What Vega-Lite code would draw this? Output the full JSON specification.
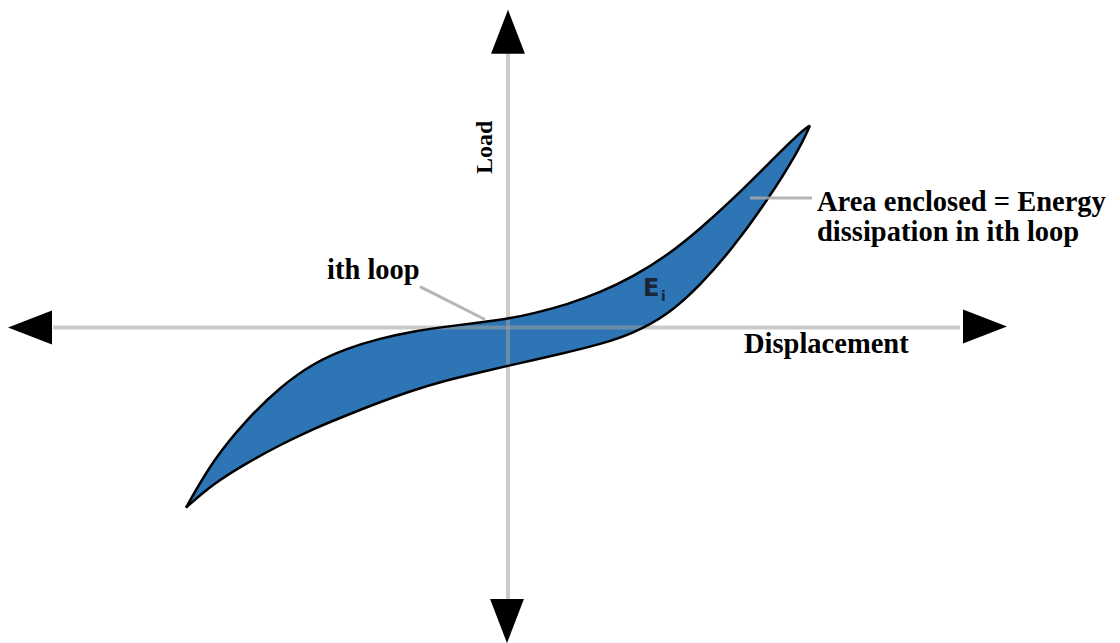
{
  "$schema": "https://vega.github.io/schema/vega-lite/v6.json",
  "width": 1120,
  "height": 643,
  "padding": 0,
  "autosize": {"type": "fit", "contains": "padding"},
  "background": "white",
  "config": {"view": {"stroke": null}},
  "datasets": {
    "loop": [
      {"d": -322, "upper": -181, "lower": -181},
      {"d": -295, "upper": -133, "lower": -157},
      {"d": -261, "upper": -92, "lower": -136},
      {"d": -228, "upper": -60, "lower": -118},
      {"d": -195, "upper": -36, "lower": -102},
      {"d": -161, "upper": -21, "lower": -88},
      {"d": -128, "upper": -11, "lower": -75},
      {"d": -95, "upper": -4, "lower": -63},
      {"d": -61, "upper": 1, "lower": -53},
      {"d": -28, "upper": 5, "lower": -45},
      {"d": 2, "upper": 9, "lower": -38},
      {"d": 25, "upper": 14, "lower": -33},
      {"d": 59, "upper": 23, "lower": -25},
      {"d": 92, "upper": 35, "lower": -17},
      {"d": 125, "upper": 51, "lower": -6},
      {"d": 159, "upper": 72, "lower": 12},
      {"d": 192, "upper": 99, "lower": 42},
      {"d": 225, "upper": 129, "lower": 80},
      {"d": 259, "upper": 163, "lower": 127},
      {"d": 292, "upper": 196, "lower": 180},
      {"d": 302, "upper": 203, "lower": 203}
    ],
    "axes": [
      {"xa": -455, "ya": 0, "xb": 452, "yb": 0},
      {"xa": 0, "ya": 276, "xb": 0, "yb": -274}
    ],
    "pointers": [
      {"xa": -88, "ya": 41, "xb": -23, "yb": 8},
      {"xa": 242, "ya": 130, "xb": 304, "yb": 130}
    ],
    "arrows": [
      {"x": -478, "y": 0, "heading": 270},
      {"x": 477, "y": 1, "heading": 90},
      {"x": 0, "y": 297, "heading": 0},
      {"x": -1, "y": -295, "heading": 180}
    ],
    "labels": [
      {"x": -181, "y": 49, "text": "ith loop"},
      {"x": 309, "y": 117, "text": "Area enclosed = Energy"},
      {"x": 309, "y": 87, "text": "dissipation in ith loop"},
      {"x": 236, "y": -26, "text": "Displacement"}
    ],
    "vlabels": [
      {"x": -23, "y": 181, "text": "Load"}
    ],
    "eLabel": [
      {"x": 135, "y": 32, "text": "E"}
    ],
    "eSub": [
      {"x": 153, "y": 27, "text": "i"}
    ]
  },
  "layer": [
    {
      "data": {"name": "loop"},
      "mark": {"type": "area", "interpolate": "basis", "color": "#2e75b6", "opacity": 1},
      "encoding": {
        "x": {"field": "d", "type": "quantitative", "scale": {"domain": [-508, 612], "nice": false, "zero": false}, "axis": null},
        "y": {"field": "upper", "type": "quantitative", "scale": {"domain": [-314, 329], "nice": false, "zero": false}, "axis": null},
        "y2": {"field": "lower"}
      }
    },
    {
      "data": {"name": "axes"},
      "mark": {"type": "rule", "color": "#a0a0a0", "opacity": 0.55, "strokeWidth": 4},
      "encoding": {
        "x": {"field": "xa", "type": "quantitative", "scale": {"domain": [-508, 612], "nice": false, "zero": false}, "axis": null},
        "y": {"field": "ya", "type": "quantitative", "scale": {"domain": [-314, 329], "nice": false, "zero": false}, "axis": null},
        "x2": {"field": "xb"},
        "y2": {"field": "yb"}
      }
    },
    {
      "data": {"name": "loop"},
      "mark": {"type": "line", "interpolate": "basis", "color": "#000000", "strokeWidth": 2.5},
      "encoding": {
        "x": {"field": "d", "type": "quantitative", "scale": {"domain": [-508, 612], "nice": false, "zero": false}, "axis": null},
        "y": {"field": "upper", "type": "quantitative", "scale": {"domain": [-314, 329], "nice": false, "zero": false}, "axis": null}
      }
    },
    {
      "data": {"name": "loop"},
      "mark": {"type": "line", "interpolate": "basis", "color": "#000000", "strokeWidth": 2.5},
      "encoding": {
        "x": {"field": "d", "type": "quantitative", "scale": {"domain": [-508, 612], "nice": false, "zero": false}, "axis": null},
        "y": {"field": "lower", "type": "quantitative", "scale": {"domain": [-314, 329], "nice": false, "zero": false}, "axis": null}
      }
    },
    {
      "data": {"name": "pointers"},
      "mark": {"type": "rule", "color": "#a8a8a8", "opacity": 0.85, "strokeWidth": 3},
      "encoding": {
        "x": {"field": "xa", "type": "quantitative", "scale": {"domain": [-508, 612], "nice": false, "zero": false}, "axis": null},
        "y": {"field": "ya", "type": "quantitative", "scale": {"domain": [-314, 329], "nice": false, "zero": false}, "axis": null},
        "x2": {"field": "xb"},
        "y2": {"field": "yb"}
      }
    },
    {
      "data": {"name": "arrows"},
      "mark": {"type": "point", "shape": "M-0.77,1L0,-1L0.77,1Z", "filled": true, "color": "#000000", "opacity": 1, "size": 1936, "strokeWidth": 0},
      "encoding": {
        "x": {"field": "x", "type": "quantitative", "scale": {"domain": [-508, 612], "nice": false, "zero": false}, "axis": null},
        "y": {"field": "y", "type": "quantitative", "scale": {"domain": [-314, 329], "nice": false, "zero": false}, "axis": null},
        "angle": {"field": "heading", "type": "quantitative", "scale": {"domain": [0, 360], "range": [0, 360]}}
      }
    },
    {
      "data": {"name": "labels"},
      "mark": {"type": "text", "font": "Liberation Serif", "fontWeight": "bold", "fontSize": 28.5, "align": "left", "baseline": "alphabetic", "color": "#000000"},
      "encoding": {
        "x": {"field": "x", "type": "quantitative", "scale": {"domain": [-508, 612], "nice": false, "zero": false}, "axis": null},
        "y": {"field": "y", "type": "quantitative", "scale": {"domain": [-314, 329], "nice": false, "zero": false}, "axis": null},
        "text": {"field": "text"}
      }
    },
    {
      "data": {"name": "vlabels"},
      "mark": {"type": "text", "font": "Liberation Serif", "fontWeight": "bold", "fontSize": 24, "align": "center", "baseline": "middle", "angle": 270, "color": "#000000"},
      "encoding": {
        "x": {"field": "x", "type": "quantitative", "scale": {"domain": [-508, 612], "nice": false, "zero": false}, "axis": null},
        "y": {"field": "y", "type": "quantitative", "scale": {"domain": [-314, 329], "nice": false, "zero": false}, "axis": null},
        "text": {"field": "text"}
      }
    },
    {
      "data": {"name": "eLabel"},
      "mark": {"type": "text", "font": "DejaVu Sans", "fontWeight": "bold", "fontSize": 24, "align": "left", "baseline": "alphabetic", "color": "#1c2536"},
      "encoding": {
        "x": {"field": "x", "type": "quantitative", "scale": {"domain": [-508, 612], "nice": false, "zero": false}, "axis": null},
        "y": {"field": "y", "type": "quantitative", "scale": {"domain": [-314, 329], "nice": false, "zero": false}, "axis": null},
        "text": {"field": "text"}
      }
    },
    {
      "data": {"name": "eSub"},
      "mark": {"type": "text", "font": "DejaVu Sans", "fontWeight": "bold", "fontSize": 14, "align": "left", "baseline": "alphabetic", "color": "#1c2536"},
      "encoding": {
        "x": {"field": "x", "type": "quantitative", "scale": {"domain": [-508, 612], "nice": false, "zero": false}, "axis": null},
        "y": {"field": "y", "type": "quantitative", "scale": {"domain": [-314, 329], "nice": false, "zero": false}, "axis": null},
        "text": {"field": "text"}
      }
    }
  ]
}
